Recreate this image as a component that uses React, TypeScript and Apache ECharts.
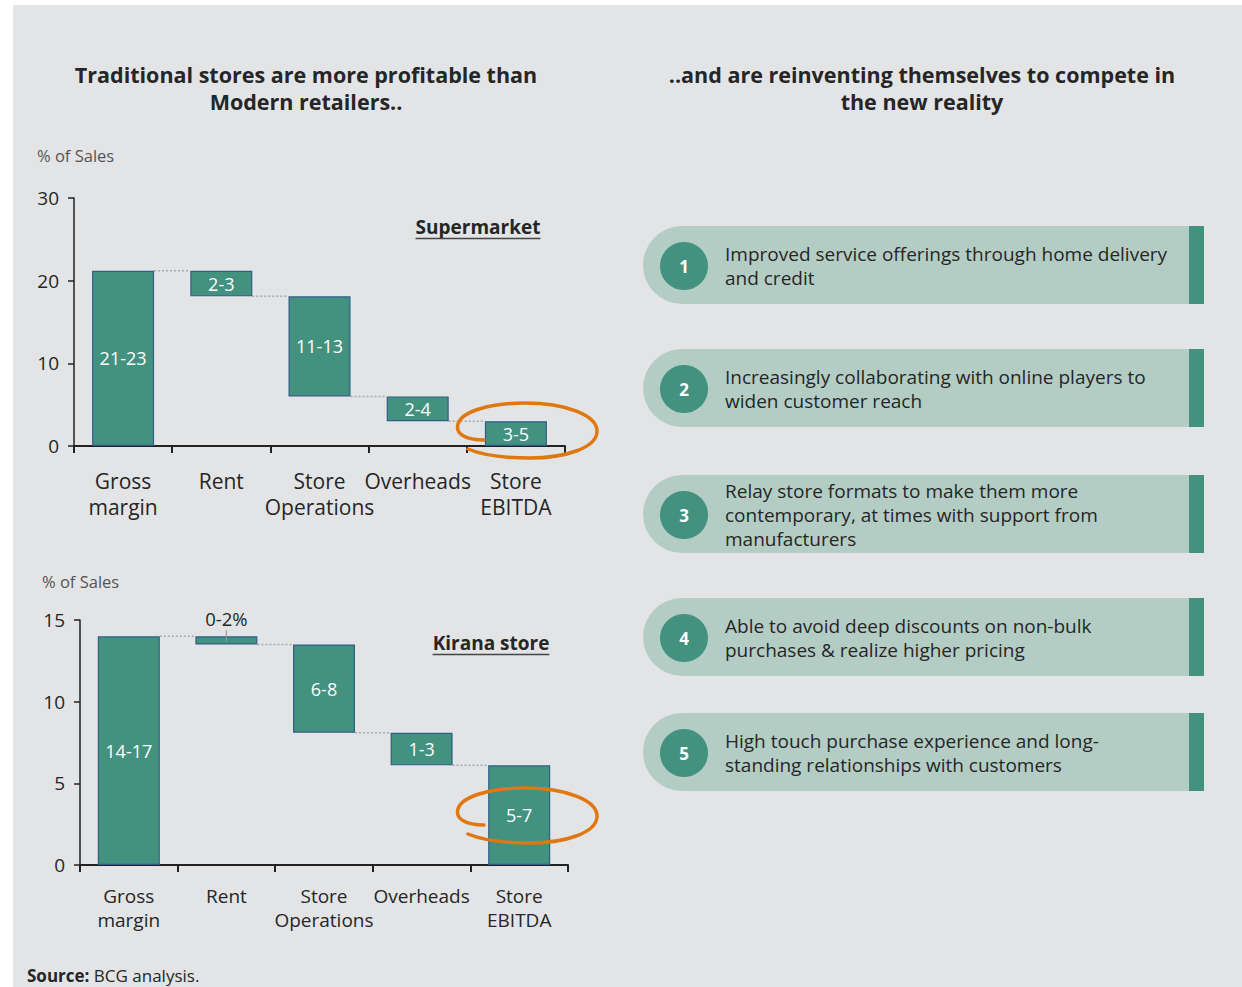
import React, { useEffect, useRef } from "react";
import * as echarts from "echarts";

// ---------------- DATA ----------------
const categories = ["Gross\nmargin", "Rent", "Store\nOperations", "Overheads", "Store\nEBITDA"];

const superBase = [0, 18.1, 6.0, 3.0, 0];
const superValue = [21.2, 3.1, 12.1, 3.0, 3.0];
const superLabels = ["21-23", "2-3", "11-13", "2-4", "3-5"];
const superTicks = [0, 10, 20, 30];

const kiranaBase = [0, 13.5, 8.1, 6.1, 0];
const kiranaValue = [14.0, 0.5, 5.4, 2.0, 6.1];
const kiranaLabels = ["14-17", "0-2%", "6-8", "1-3", "5-7"];
const kiranaTicks = [0, 5, 10, 15];

const leftTitle = "Traditional stores are more profitable than\nModern retailers..";
const rightTitle = "..and are reinventing themselves to compete in\nthe new reality";
const unitLabel = "% of Sales";

const initiatives = [
  ["Improved service offerings through home delivery", "and credit"],
  ["Increasingly collaborating with online players to", "widen customer reach"],
  ["Relay store formats to make them more", "contemporary, at times with support from", "manufacturers"],
  ["Able to avoid deep discounts on non-bulk", "purchases & realize higher pricing"],
  ["High touch purchase experience and long-", "standing relationships with customers"],
];

// ---------------- STYLE ----------------
const FONT = "'Open Sans', 'Noto Sans', sans-serif";
const BG = "#e3e4e6";
const TEAL = "#43917f";
const BORDER = "#2f5e88";
const PILL = "#b4cdc4";
const ORANGE = "#e07810";
const TXT = "#262626";
const BAR_W = 62;

const loopPath =
  "M-43,10 C-61,10 -72,4 -69,-6 C-65,-20 -32,-27 -2,-27 C38,-27 71,-15 70,2 C69,18 38,28 3,28 C-22,28 -45,25 -59,19";
echarts.graphic.registerShape("orangeLoop", echarts.graphic.extendPath(loopPath, {}));

function measure(text: string, font: string): number {
  const c = document.createElement("canvas").getContext("2d");
  if (!c) return text.length * 10;
  c.font = font;
  return c.measureText(text).width;
}

function connectorData(base: number[], value: number[]) {
  const out: number[][] = [];
  for (let i = 0; i < base.length - 1; i++) out.push([i, base[i + 1] + value[i + 1]]);
  return out;
}

function waterfall(
  idx: number,
  base: number[],
  value: number[],
  labels: string[],
  labelSize: number,
  topLabelIndex: number,
  topLabelSize: number
) {
  return [
    {
      type: "bar",
      xAxisIndex: idx,
      yAxisIndex: idx,
      stack: "w" + idx,
      barWidth: BAR_W,
      silent: true,
      itemStyle: { color: "transparent" },
      data: base,
    },
    {
      type: "bar",
      xAxisIndex: idx,
      yAxisIndex: idx,
      stack: "w" + idx,
      barWidth: BAR_W,
      itemStyle: { color: TEAL, borderColor: BORDER, borderWidth: 1.2 },
      label: {
        show: true,
        position: "inside",
        color: "#ffffff",
        fontSize: labelSize,
        fontFamily: FONT,
        formatter: (p: any) => labels[p.dataIndex],
      },
      data: value.map((v, i) =>
        i === topLabelIndex
          ? { value: v, label: { position: "top", color: TXT, distance: 8, fontSize: topLabelSize } }
          : v
      ),
    },
    {
      type: "custom",
      xAxisIndex: idx,
      yAxisIndex: idx,
      silent: true,
      encode: { x: 0, y: 1 },
      data: connectorData(base, value),
      renderItem: (params: any, api: any) => {
        const i = api.value(0);
        const lvl = api.value(1);
        const p0 = api.coord([i, lvl]);
        const p1 = api.coord([i + 1, lvl]);
        return {
          type: "line",
          shape: { x1: p0[0] + BAR_W / 2, y1: p0[1], x2: p1[0] - BAR_W / 2, y2: p1[1] },
          style: { stroke: "#a8a8a8", lineWidth: 1.5, lineDash: [2, 2] },
        };
      },
    },
  ];
}

export default function App() {
  const ref = useRef<HTMLDivElement>(null);

  useEffect(() => {
    if (!ref.current) return;
    const chart = echarts.init(ref.current, undefined, { renderer: "svg", width: 1242, height: 987 });

    const graphics: any[] = [];
    graphics.push({
      type: "rect",
      z: -10,
      shape: { x: 13, y: 5, width: 1242 - 13, height: 987 - 5 },
      style: { fill: BG },
    });
    graphics.push({
      type: "text",
      x: 306,
      y: 88,
      style: {
        text: leftTitle,
        font: `bold 21.5px ${FONT}`,
        fill: TXT,
        textAlign: "center",
        textVerticalAlign: "middle",
        lineHeight: 27,
      },
    });
    graphics.push({
      type: "text",
      x: 922,
      y: 88,
      style: {
        text: rightTitle,
        font: `bold 21.5px ${FONT}`,
        fill: TXT,
        textAlign: "center",
        textVerticalAlign: "middle",
        lineHeight: 27,
      },
    });
    graphics.push({
      type: "text",
      x: 37,
      y: 155,
      style: { text: unitLabel, font: `16.5px ${FONT}`, fill: "#555", textVerticalAlign: "middle" },
    });
    graphics.push({
      type: "text",
      x: 42,
      y: 581,
      style: { text: unitLabel, font: `16.5px ${FONT}`, fill: "#555", textVerticalAlign: "middle" },
    });

    // chart labels with underline
    const tagFont = `bold 19px ${FONT}`;
    const tags = [
      { t: "Supermarket", cx: 478, cy: 227 },
      { t: "Kirana store", cx: 491, cy: 643 },
    ];
    tags.forEach((g) => {
      const w = measure(g.t, tagFont);
      graphics.push({
        type: "text",
        x: g.cx,
        y: g.cy,
        style: { text: g.t, font: tagFont, fill: TXT, textAlign: "center", textVerticalAlign: "middle" },
      });
      graphics.push({
        type: "line",
        shape: { x1: g.cx - w / 2, y1: g.cy + 11.5, x2: g.cx + w / 2, y2: g.cy + 11.5 },
        style: { stroke: "#444", lineWidth: 1.5 },
      });
    });

    // orange loops
    [430, 815].forEach((cy) => {
      graphics.push({
        type: "orangeLoop",
        x: 527,
        y: cy,
        z: 100,
        style: { fill: "none", stroke: ORANGE, lineWidth: 3.5, lineCap: "round" },
      });
    });

    // pills
    const pillTops = [226, 349, 475, 598, 713];
    const pillH = 78;
    initiatives.forEach((lines, i) => {
      const top = pillTops[i];
      const cy = top + pillH / 2;
      graphics.push({
        type: "rect",
        shape: { x: 643, y: top, width: 1189 - 643, height: pillH, r: [pillH / 2, 0, 0, pillH / 2] },
        style: { fill: PILL },
      });
      graphics.push({
        type: "rect",
        shape: { x: 1189, y: top, width: 15, height: pillH },
        style: { fill: TEAL },
      });
      graphics.push({
        type: "circle",
        shape: { cx: 684, cy: cy + 1, r: 24 },
        style: { fill: TEAL },
      });
      graphics.push({
        type: "text",
        x: 684,
        y: cy + 1,
        style: {
          text: String(i + 1),
          font: `bold 17px ${FONT}`,
          fill: "#fff",
          textAlign: "center",
          textVerticalAlign: "middle",
        },
      });
      graphics.push({
        type: "text",
        x: 725,
        y: cy + 1,
        style: {
          text: lines.join("\n"),
          font: `19px ${FONT}`,
          fill: TXT,
          textVerticalAlign: "middle",
          lineHeight: 24,
        },
      });
    });

    graphics.push({
      type: "text",
      x: 27,
      y: 975,
      style: {
        text: "{b|Source:} BCG analysis.",
        font: `17px ${FONT}`,
        fill: TXT,
        textVerticalAlign: "middle",
        rich: { b: { fontWeight: "bold", fontSize: 17, fontFamily: FONT, fill: TXT } },
      },
    });

    const axisX = (idx: number, size: number, lh: number, margin: number) => ({
      type: "category",
      gridIndex: idx,
      data: categories,
      axisLine: { lineStyle: { color: "#222", width: 2 } },
      axisTick: { show: true, length: 7, lineStyle: { color: "#222", width: 2 } },
      axisLabel: { interval: 0, fontSize: size, lineHeight: lh, color: TXT, margin, fontFamily: FONT },
    });
    const axisY = (idx: number, ticks: number[]) => ({
      type: "value",
      gridIndex: idx,
      min: ticks[0],
      max: ticks[ticks.length - 1],
      interval: ticks[1] - ticks[0],
      splitLine: { show: false },
      axisLine: { show: true, lineStyle: { color: "#222", width: 1.5 } },
      axisTick: { show: true, length: 6, lineStyle: { color: "#222", width: 1.5 } },
      axisLabel: { fontSize: 19, color: TXT, margin: 15, fontFamily: FONT },
    });

    const leader = {
      type: "custom",
      xAxisIndex: 1,
      yAxisIndex: 1,
      silent: true,
      z: 10,
      encode: { x: 0, y: 1 },
      data: [[1, kiranaBase[1] + kiranaValue[1]]],
      renderItem: (params: any, api: any) => {
        const p = api.coord([api.value(0), api.value(1)]);
        return {
          type: "line",
          shape: { x1: p[0], y1: p[1] - 6, x2: p[0], y2: p[1] + 5 },
          style: { stroke: "#9a9a9a", lineWidth: 1.2 },
        };
      },
    };

    chart.setOption({
      animation: false,
      backgroundColor: "#ffffff",
      textStyle: { fontFamily: FONT },
      grid: [
        { left: 74, top: 198, width: 491, height: 248 },
        { left: 80, top: 620, width: 488, height: 245 },
      ],
      xAxis: [axisX(0, 21, 26, 22), axisX(1, 19, 24, 19)],
      yAxis: [axisY(0, superTicks), axisY(1, kiranaTicks)],
      series: [
        ...waterfall(0, superBase, superValue, superLabels, 18, -1, 18),
        ...waterfall(1, kiranaBase, kiranaValue, kiranaLabels, 18, 1, 18.5),
        leader,
      ],
      graphic: graphics,
    });

    return () => chart.dispose();
  }, []);

  return (
    <div
      ref={ref}
      style={{ position: "absolute", left: 0, top: 0, width: 1242, height: 987 }}
    />
  );
}
